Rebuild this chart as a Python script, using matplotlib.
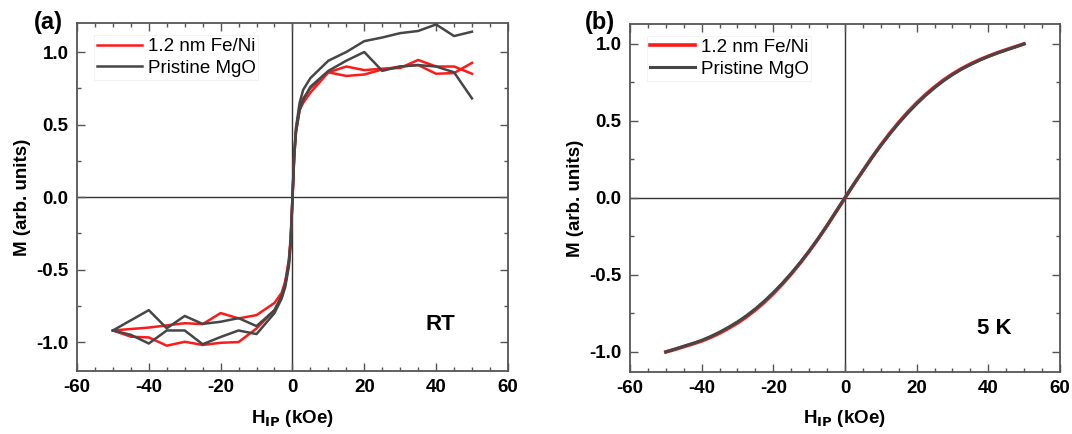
import matplotlib
matplotlib.use("Agg")
import matplotlib.pyplot as plt
from matplotlib.ticker import MultipleLocator

plt.rcParams['font.family'] = ['Liberation Sans', 'DejaVu Sans']
plt.rcParams['axes.unicode_minus'] = False

# ---- panel (a): room temperature loops ----
h_red_a = [-50, -40, -30, -25, -20, -15, -10, -5, -3, -2, -1, -0.5, 0, 0.5, 1, 2, 3, 5, 10, 15, 20, 25, 30, 35, 40, 45, 50]
m_red_a = [-0.92, -0.90, -0.87, -0.876, -0.80, -0.837, -0.814, -0.73, -0.66, -0.58, -0.43, -0.28, 0.0, 0.30, 0.47, 0.62, 0.68, 0.75, 0.86, 0.90, 0.875, 0.885, 0.89, 0.945, 0.90, 0.90, 0.85]
h_red_b = [-50, -45, -40, -35, -30, -25, -20, -15, -10, -5, -3, -2, -1, -0.5, 0, 0.5, 1, 2, 3, 5, 10, 15, 20, 25, 30, 35, 40, 45, 50]
m_red_b = [-0.92, -0.963, -0.968, -1.025, -0.998, -1.02, -1.005, -1.0, -0.906, -0.78, -0.69, -0.60, -0.46, -0.30, -0.03, 0.28, 0.45, 0.60, 0.65, 0.72, 0.86, 0.835, 0.845, 0.88, 0.90, 0.91, 0.85, 0.855, 0.925]

h_gray_a = [-50, -40, -35, -30, -25, -20, -15, -10, -5, -3, -2, -1, -0.5, 0, 0.5, 1, 2, 3, 5, 10, 15, 20, 25, 30, 35, 40, 45, 50]
m_gray_a = [-0.92, -0.78, -0.905, -0.82, -0.875, -0.86, -0.835, -0.89, -0.78, -0.68, -0.60, -0.45, -0.30, 0.0, 0.30, 0.48, 0.65, 0.74, 0.82, 0.94, 1.0, 1.075, 1.10, 1.13, 1.145, 1.19, 1.11, 1.14]
h_gray_b = [-50, -45, -40, -35, -30, -25, -20, -15, -10, -5, -3, -2, -1, -0.5, 0, 0.5, 1, 2, 3, 5, 10, 15, 20, 25, 30, 35, 40, 45, 50]
m_gray_b = [-0.92, -0.95, -1.01, -0.92, -0.92, -1.015, -0.965, -0.92, -0.945, -0.80, -0.70, -0.62, -0.48, -0.33, -0.02, 0.28, 0.45, 0.60, 0.67, 0.76, 0.87, 0.94, 1.0, 0.87, 0.90, 0.91, 0.90, 0.86, 0.68]

# ---- panel (b): 5 K curves ----
h_5k = [-50, -47.5, -45, -42.5, -40, -37.5, -35, -32.5, -30, -27.5, -25, -22.5, -20, -17.5, -15, -12.5, -10, -7.5, -5, -2.5,
        0, 2.5, 5, 7.5, 10, 12.5, 15, 17.5, 20, 22.5, 25, 27.5, 30, 32.5, 35, 37.5, 40, 42.5, 45, 47.5, 50]
m_gray_5k = [-1.0, -0.982, -0.963, -0.945, -0.925, -0.90, -0.872, -0.84, -0.805, -0.765, -0.72, -0.67, -0.615, -0.555, -0.49, -0.42, -0.345, -0.265, -0.18, -0.09,
             0.0, 0.09, 0.175, 0.26, 0.34, 0.415, 0.485, 0.55, 0.61, 0.665, 0.715, 0.76, 0.80, 0.835, 0.865, 0.893, 0.918, 0.94, 0.96, 0.98, 1.0]
m_red_5k = [-1.0, -0.984, -0.966, -0.948, -0.929, -0.905, -0.878, -0.846, -0.812, -0.772, -0.727, -0.677, -0.621, -0.56, -0.494, -0.423, -0.347, -0.266, -0.18, -0.09,
            0.0, 0.09, 0.176, 0.262, 0.343, 0.419, 0.49, 0.556, 0.616, 0.671, 0.72, 0.765, 0.804, 0.839, 0.869, 0.896, 0.92, 0.942, 0.962, 0.981, 1.0]

RED = '#ff1a1a'
GRAY = '#464646'
FRAME = '#555555'

fig = plt.figure(figsize=(10.72, 4.34), dpi=100)
ax1 = fig.add_axes([0.0718, 0.145, 0.402, 0.802])
ax2 = fig.add_axes([0.5877, 0.143, 0.401, 0.802])


def style(ax, ylim):
    ax.set_xlim(-60, 60)
    ax.set_ylim(*ylim)
    ax.xaxis.set_major_locator(MultipleLocator(20))
    ax.xaxis.set_minor_locator(MultipleLocator(5))
    ax.yaxis.set_major_locator(MultipleLocator(0.5))
    ax.yaxis.set_minor_locator(MultipleLocator(0.25))
    ax.tick_params(which='both', direction='in', top=True, right=True, color=FRAME, width=1.0)
    ax.tick_params(which='major', length=6, labelsize=13.5, pad=6)
    ax.tick_params(which='minor', length=3)
    for lab in ax.get_xticklabels() + ax.get_yticklabels():
        lab.set_fontweight('bold')
    ax.yaxis.set_major_formatter(matplotlib.ticker.FormatStrFormatter('%.1f'))
    for s in ax.spines.values():
        s.set_color(FRAME)
        s.set_linewidth(1.3)
    ax.axhline(0, color='#333333', lw=1.0, zorder=1)
    ax.axvline(0, color='#333333', lw=1.0, zorder=1)
    ax.set_xlabel(r'H$_{\mathbf{IP}}$ (kOe)', fontsize=13.5, fontweight='bold', labelpad=8)
    ax.set_ylabel('M (arb. units)', fontsize=13.5, fontweight='bold')


style(ax1, (-1.2, 1.2))
style(ax2, (-1.13, 1.13))
ax1.yaxis.set_label_coords(-0.107, 0.5)
ax2.yaxis.set_label_coords(-0.107, 0.5)

ax1.plot(h_red_a, m_red_a, color=RED, lw=1.8, label='1.2 nm Fe/Ni', zorder=3)
ax1.plot(h_red_b, m_red_b, color=RED, lw=1.8, zorder=3)
ax1.plot(h_gray_a, m_gray_a, color=GRAY, lw=1.8, label='Pristine MgO', zorder=4)
ax1.plot(h_gray_b, m_gray_b, color=GRAY, lw=1.8, zorder=4)

ax2.plot(h_5k, m_red_5k, color=RED, lw=2.6, label='1.2 nm Fe/Ni', zorder=3)
ax2.plot(h_5k, m_gray_5k, color=GRAY, lw=2.2, label='Pristine MgO', zorder=4)

for ax in (ax1, ax2):
    leg = ax.legend(loc='upper left', bbox_to_anchor=(0.04, 0.965), borderaxespad=0,
                    fontsize=13.5, handlelength=2.4, handletextpad=0.3, borderpad=0.15,
                    labelspacing=0.25, frameon=True, fancybox=False)
    leg.get_frame().set_edgecolor('#f0f0f0')
    leg.get_frame().set_linewidth(0.8)

ax1.text(41.3, -0.88, 'RT', fontsize=16, fontweight='bold', ha='center', va='center')
ax2.text(41.6, -0.845, '5 K', fontsize=16, fontweight='bold', ha='center', va='center')

fig.text(48 / 1072, 1 - 23 / 434, '(a)', fontsize=17, fontweight='bold', ha='center', va='center')
fig.text(600 / 1072, 1 - 23 / 434, '(b)', fontsize=17, fontweight='bold', ha='center', va='center')

fig.savefig('out.png', dpi=100)
